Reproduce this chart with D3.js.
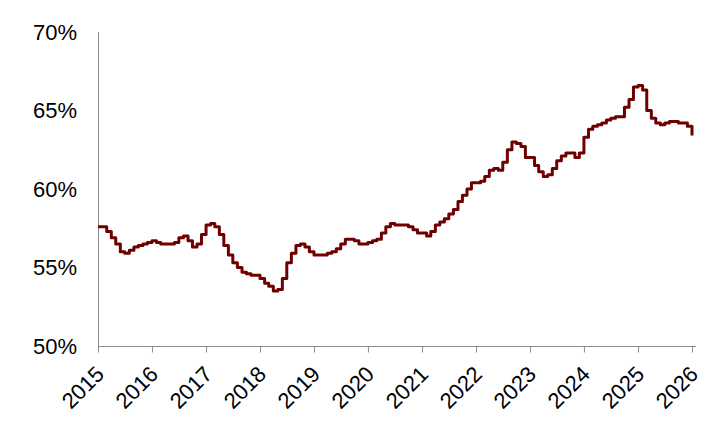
<!DOCTYPE html>
<html>
<head>
<meta charset="utf-8">
<script src="https://cdn.jsdelivr.net/npm/d3@7"></script>
<style>
  html, body { margin: 0; padding: 0; background: #fff; }
  svg { display: block; }
  text { font-family: "Liberation Sans", Arial, sans-serif; fill: #000; }
</style>
</head>
<body>
<svg id="chart" width="708" height="427"></svg>
<script>
// Monthly values (%), starting January 2015
const startYear = 2015;
const values2015 = [57.6, 57.6, 57.3, 56.9, 56.5, 56.0, 55.9, 56.1, 56.3, 56.4, 56.5, 56.6];
const values2016 = [56.7, 56.6, 56.5, 56.5, 56.5, 56.6, 56.9, 57.0, 56.7, 56.3, 56.5, 57.1];
const values2017 = [57.7, 57.8, 57.6, 57.1, 56.4, 55.8, 55.3, 55.0, 54.7, 54.6, 54.5, 54.5];
const values2018 = [54.3, 54.0, 53.8, 53.5, 53.6, 54.3, 55.3, 55.9, 56.4, 56.5, 56.3, 56.0];
const values2019 = [55.8, 55.8, 55.8, 55.9, 56.0, 56.2, 56.5, 56.8, 56.8, 56.7, 56.5, 56.5];
const values2020 = [56.6, 56.7, 56.8, 57.2, 57.6, 57.8, 57.7, 57.7, 57.7, 57.6, 57.4, 57.2];
const values2021 = [57.2, 57.0, 57.3, 57.7, 57.9, 58.1, 58.4, 58.7, 59.2, 59.6, 60.0, 60.4];
const values2022 = [60.4, 60.5, 60.8, 61.2, 61.3, 61.2, 61.7, 62.5, 63.0, 62.9, 62.7, 62.0];
const values2023 = [62.0, 61.5, 61.1, 60.8, 60.9, 61.3, 61.8, 62.1, 62.3, 62.3, 62.0, 62.3];
const values2024 = [63.3, 63.8, 64.0, 64.1, 64.2, 64.4, 64.5, 64.6, 64.6, 65.2, 65.7, 66.5];
const values2025 = [66.6, 66.3, 65.0, 64.5, 64.2, 64.1, 64.2, 64.3, 64.3, 64.2, 64.2, 64.0];
const values2026 = [63.4];

const yTicks = [50, 55, 60, 65, 70];
const yTickLabels = ["50%", "55%", "60%", "65%", "70%"];
const xTickYears = [2015, 2016, 2017, 2018, 2019, 2020, 2021, 2022, 2023, 2024, 2025, 2026];

const allValues = [].concat(values2015, values2016, values2017, values2018, values2019,
  values2020, values2021, values2022, values2023, values2024, values2025, values2026);
const data = allValues.map((v, i) => ({ date: new Date(startYear, i, 1), value: v }));

const svg = d3.select("#chart");
const mLeft = 98, mRight = 692, mTop = 32, mBottom = 346;

const x = d3.scaleTime()
  .domain([new Date(2015, 0, 1), new Date(2026, 0, 1)])
  .range([mLeft, mRight]);
const y = d3.scaleLinear().domain([50, 70]).range([mBottom, mTop]);

const axisColor = "#8c8c8c";
const fontFam = '"Liberation Sans", Arial, sans-serif';

// Y axis line
svg.append("line")
  .attr("x1", mLeft + 0.5).attr("x2", mLeft + 0.5)
  .attr("y1", mTop).attr("y2", mBottom)
  .attr("stroke", axisColor).attr("stroke-width", 1);

// Y labels
const yAxis = d3.axisLeft(y).tickValues(yTicks)
  .tickFormat((d, i) => yTickLabels[i]).tickSize(0).tickPadding(0);
const gy = svg.append("g").attr("transform", `translate(${mLeft - 21},0)`).call(yAxis);
gy.select(".domain").remove();
gy.selectAll("text").style("font-size", "22px")
  .style("font-family", fontFam).attr("fill", "#000");

// X axis
const xAxis = d3.axisBottom(x)
  .tickValues(xTickYears.map(yr => new Date(yr, 0, 1)))
  .tickFormat(d3.timeFormat("%Y"))
  .tickSize(6).tickSizeOuter(0);
const gx = svg.append("g").attr("transform", `translate(0,${mBottom + 0.5})`).call(xAxis);
gx.select(".domain").remove();
gx.append("line").attr("x1", mLeft).attr("x2", mRight + 4).attr("y1", 0).attr("y2", 0)
  .attr("stroke", axisColor);
gx.selectAll(".tick line").attr("stroke", axisColor);
gx.selectAll("text")
  .style("font-size", "22px")
  .style("font-family", fontFam)
  .attr("fill", "#000")
  .attr("text-anchor", "end")
  .attr("dy", null).attr("y", 0)
  .attr("transform", "translate(7,29) rotate(-45)");

// Line
const line = d3.line()
  .x(d => x(d.date))
  .y(d => y(d.value))
  .curve(d3.curveStepAfter);

svg.append("path")
  .datum(data)
  .attr("fill", "none")
  .attr("stroke", "#6e0000")
  .attr("stroke-width", 3)
  .attr("stroke-linejoin", "round")
  .attr("d", line);
</script>
</body>
</html>
